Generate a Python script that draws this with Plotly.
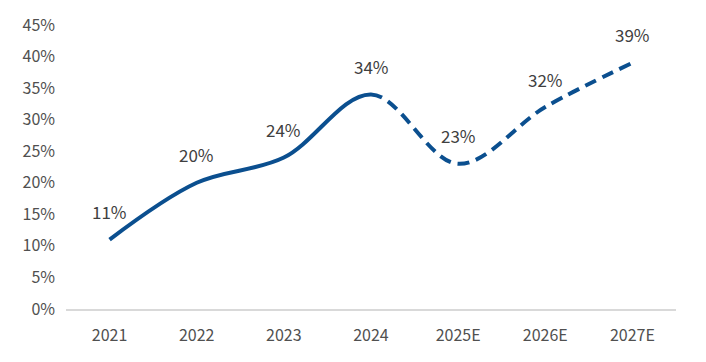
import plotly.graph_objects as go

categories = ["2021", "2022", "2023", "2024", "2025E", "2026E", "2027E"]
values = [11, 20, 24, 34, 23, 32, 39]
labels = ["11%", "20%", "24%", "34%", "23%", "32%", "39%"]
actual_n = 4  # first 4 are actuals (solid), rest estimates (dashed)

line_color = "#0b4f8f"
font_family = "Noto Sans CJK SC"
xpos = list(range(len(categories)))
split = xpos[actual_n - 1]

fig = go.Figure()
# same smooth curve drawn in two clipped subplots: solid for actuals, dashed for estimates
fig.add_trace(go.Scatter(
    x=xpos, y=values, mode="lines", xaxis="x", yaxis="y",
    line=dict(color=line_color, width=4, shape="spline", smoothing=1.0),
    hoverinfo="skip", showlegend=False))
fig.add_trace(go.Scatter(
    x=xpos, y=values, mode="lines", xaxis="x2", yaxis="y",
    line=dict(color=line_color, width=4, shape="spline", smoothing=1.0, dash="12px,7px"),
    hoverinfo="skip", showlegend=False))

for i, v, t in zip(xpos, values, labels):
    ax = "x" if i <= split else "x2"
    fig.add_annotation(x=i, y=v, xref=ax, yref="y", text=t, showarrow=False, yshift=28,
                       font=dict(family=font_family, size=17, color="#404040"))

lo, hi = -0.5, len(categories) - 0.5
frac = (split - lo) / (hi - lo)
common_x = dict(showgrid=False, showline=True, zeroline=False,
                linecolor="#d9d9d9", linewidth=1.5, ticks="", ticklabelstandoff=11,
                tickfont=dict(size=16, color="#505050"))

fig.update_layout(
    width=706, height=362,
    margin=dict(l=66, r=29, t=22, b=53),
    paper_bgcolor="white", plot_bgcolor="white",
    font=dict(family=font_family, color="#505050", size=16),
    xaxis=dict(domain=[0, frac], range=[lo, split],
               tickvals=xpos[:actual_n], ticktext=categories[:actual_n], **common_x),
    xaxis2=dict(domain=[frac, 1], range=[split, hi], anchor="y",
                tickvals=xpos[actual_n:], ticktext=categories[actual_n:], **common_x),
    yaxis=dict(range=[0, 45], dtick=5, ticksuffix="%", showgrid=False,
               zeroline=False, showline=False, ticks="", ticklabelstandoff=10,
               tickfont=dict(size=16, color="#505050")),
)

fig.write_html("out.html", config={"displayModeBar": False},
               post_script="document.body.style.margin='0';")
